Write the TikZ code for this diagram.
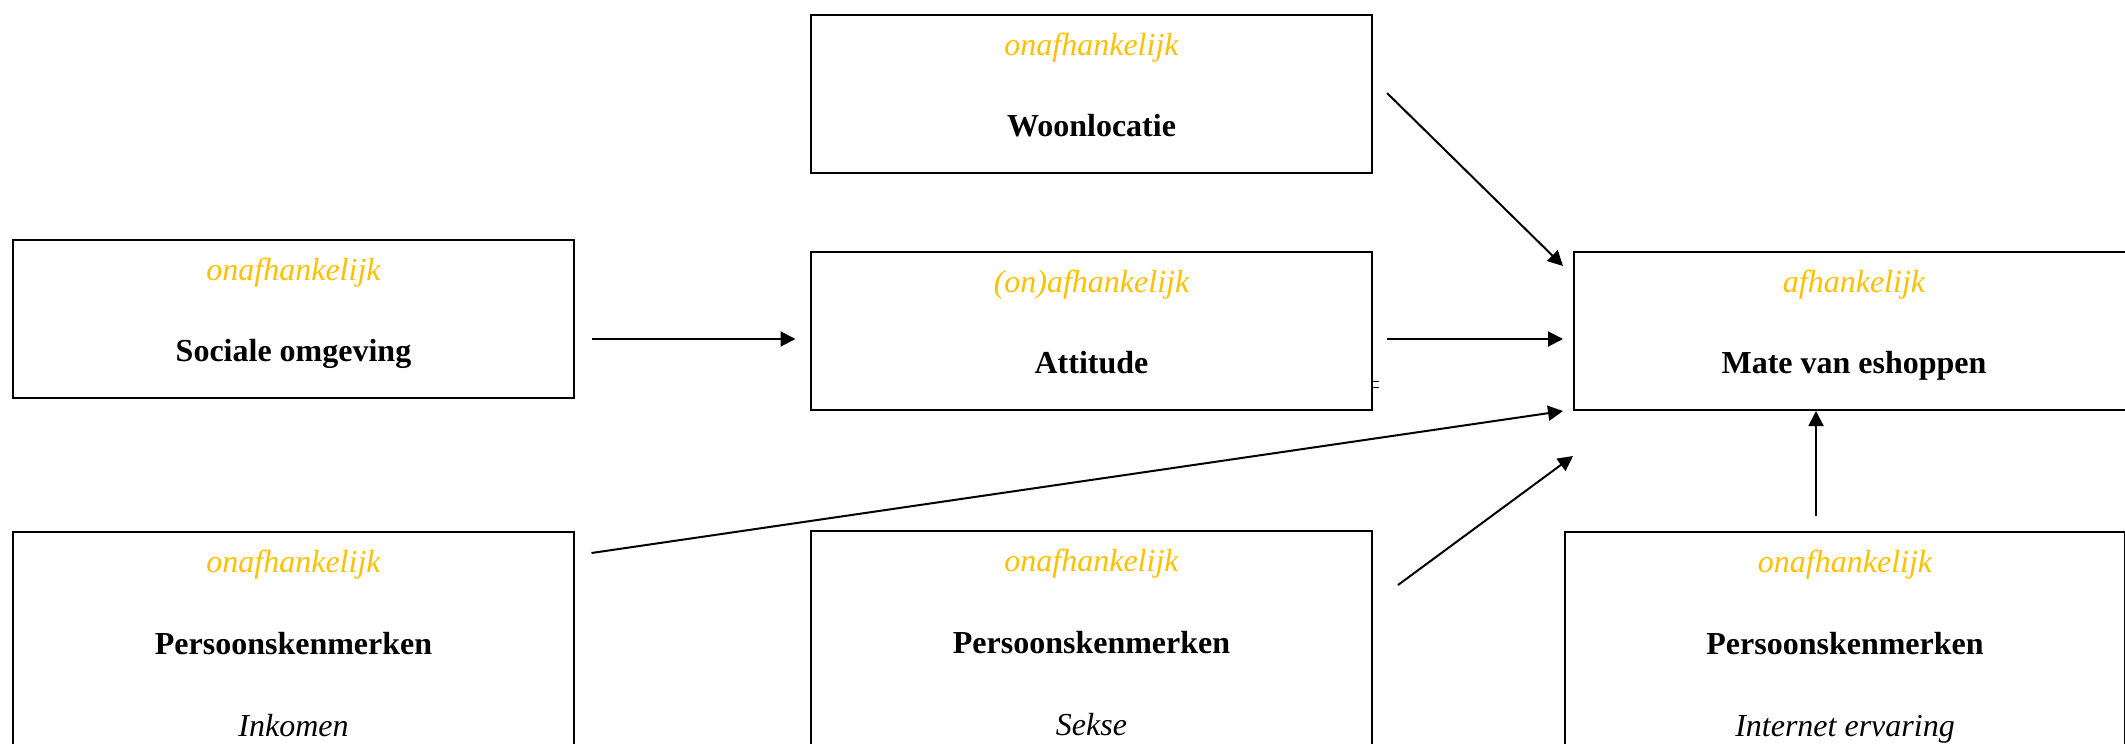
\documentclass[tikz,border=0pt]{standalone}
\usepackage{fontspec}
\setmainfont{Liberation Serif}
\usetikzlibrary{arrows.meta,calc}
\definecolor{gold}{HTML}{FFC000}
\tikzset{
  box/.style={draw=black, line width=1pt, rectangle, anchor=north west, minimum width=280.5pt, minimum height=79pt, inner sep=0pt},
  tallbox/.style={box, minimum height=150pt},
  tag/.style={font=\fontsize{16}{19}\selectfont\itshape, text=gold, inner sep=0pt, anchor=base},
  title/.style={font=\fontsize{16}{19}\selectfont\bfseries, inner sep=0pt, anchor=base},
  sub/.style={font=\fontsize{16}{19}\selectfont\itshape, inner sep=0pt, anchor=base},
  conn/.style={line width=1pt, -{Triangle[length=7.5pt,width=7.5pt]}},
}
\begin{document}
\begin{tikzpicture}[x=0.5pt,y=-0.5pt]
\useasboundingbox (0,0) rectangle (2125,744);
\clip (0,0) rectangle (2125,744);
\fill[white] (0,0) rectangle (2125,744);
% boxes
\node[box] (woon) at (810,14) {};
\node[box] (soc) at (12,239) {};
\node[box] (att) at (810,251) {};
\node[box, minimum width=280pt] (mate) at (1573,251) {};
\node[tallbox] (ink) at (12,531) {};
\node[tallbox] (sek) at (810,530) {};
\node[tallbox, minimum width=280pt] (int) at (1564,531) {};
% texts
\node[tag] (woontag) at ($(woon.north)+(0,41)$) {onafhankelijk};
\node[title] (woontitle) at ($(woon.north)+(0,122)$) {Woonlocatie};
\node[tag] (soctag) at ($(soc.north)+(0,41)$) {onafhankelijk};
\node[title] (soctitle) at ($(soc.north)+(0,122)$) {Sociale omgeving};
\node[tag] (atttag) at ($(att.north)+(0,41)$) {(on)afhankelijk};
\node[title] (atttitle) at ($(att.north)+(0,122)$) {Attitude};
\node[tag] (matetag) at ($(mate.north)+(0,41)$) {afhankelijk};
\node[title] (matetitle) at ($(mate.north)+(0,122)$) {Mate van eshoppen};
\node[tag] (inktag) at ($(ink.north)+(0,41)$) {onafhankelijk};
\node[title] (inktitle) at ($(ink.north)+(0,123)$) {Persoonskenmerken};
\node[sub] (inksub) at ($(ink.north)+(0,205)$) {Inkomen};
\node[tag] (sektag) at ($(sek.north)+(0,41)$) {onafhankelijk};
\node[title] (sektitle) at ($(sek.north)+(0,123)$) {Persoonskenmerken};
\node[sub] (seksub) at ($(sek.north)+(0,205)$) {Sekse};
\node[tag] (inttag) at ($(int.north)+(0,41)$) {onafhankelijk};
\node[title] (inttitle) at ($(int.north)+(0,123)$) {Persoonskenmerken};
\node[sub] (intsub) at ($(int.north)+(0,205)$) {Internet ervaring};
% connectors
\draw[conn] ($(woon.east)+(14,-1)$) -- ($(mate.north west)+(-10,15)$);
\draw[conn] ($(soc.north east)+(16.5,100)$) -- ($(att.north west)+(-14.5,88)$);
\draw[conn] ($(att.north east)+(14,88)$) -- ($(mate.north west)+(-10,88)$);
\draw[conn] ($(ink.north east)+(16.5,22)$) -- ($(mate.south west)+(-10,0)$);
\draw[conn] ($(sek.north east)+(25,55)$) -- ($(mate.south west)+(0,45)$);
\draw[conn] ($(int.north west)+(252,-15)$) -- ($(mate.south west)+(243,0)$);
% small marks at the Attitude box edge
\draw[line width=0.5pt] ($(att.north east)+(0,130)$) -- ++(6,0);
\draw[line width=0.5pt] ($(att.north east)+(0,136)$) -- ++(6,0);
\end{tikzpicture}
\end{document}
